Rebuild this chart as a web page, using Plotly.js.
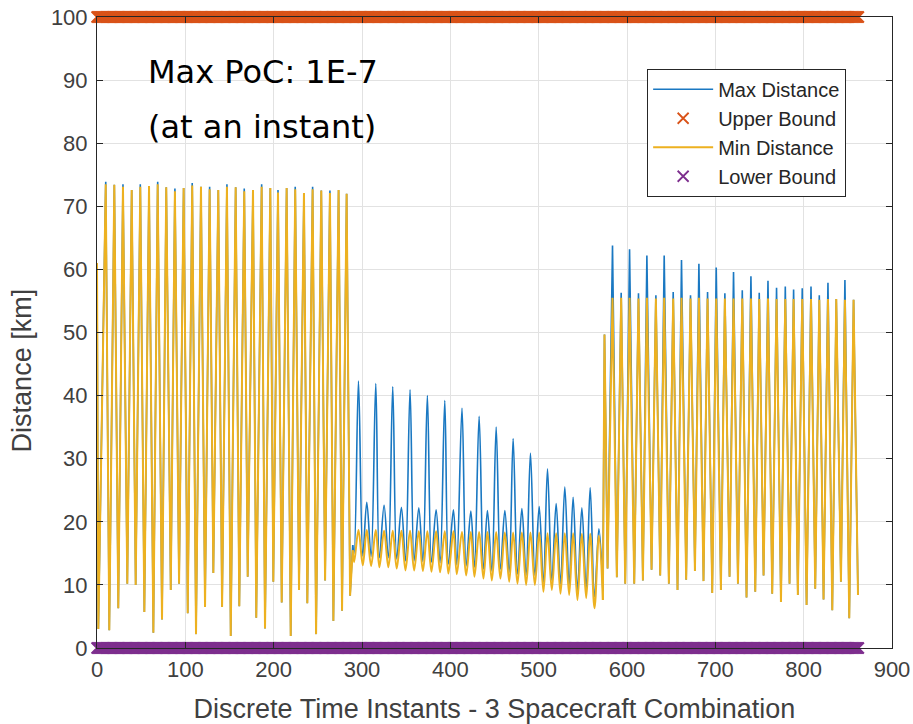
<!DOCTYPE html>
<html><head><meta charset="utf-8">
<script src="https://cdn.plot.ly/plotly-3.0.1.min.js"></script>
<style>html,body{margin:0;padding:0;background:#fff;} #chart{width:913px;height:724px;}</style>
</head><body><div id="chart"></div>
<script>
// ---- Segment 1 (instants 0 - 288) ----
const s1StartX = [0];
const s1StartY = [61.0];
const s1PeakX = [9.9, 19.6, 29.4, 39.3, 49.0, 58.9, 68.7, 78.4, 88.2, 98.1, 107.8, 117.7, 127.5, 137.3, 147.1, 157.0, 166.7, 176.6, 186.4, 196.2, 204.9, 214.7, 224.4, 234.3, 244.1, 253.9, 263.7, 273.5, 282.6];
const s1PeakMin = [73.5, 73.4, 73.1, 72.6, 73.1, 73.2, 73.5, 73.0, 72.4, 72.9, 73.3, 73.1, 72.7, 72.6, 73.1, 73.0, 72.4, 72.6, 73.1, 72.9, 72.2, 72.9, 72.7, 72.1, 72.7, 72.5, 72.1, 72.6, 72.0];
const s1PeakMax = [73.9, 73.4, 73.5, 72.6, 73.5, 73.2, 73.9, 73.0, 72.8, 72.9, 73.7, 73.1, 73.1, 72.6, 73.5, 73.0, 72.8, 72.6, 73.5, 72.9, 72.6, 72.9, 73.1, 72.1, 73.1, 72.5, 72.5, 72.6, 72.0];
const s1TroughX = [1.5, 13.9, 24.1, 34.3, 43.8, 53.6, 63.8, 73.6, 83.5, 92.9, 102.7, 112.1, 122.3, 131.7, 141.6, 151.4, 161.1, 170.6, 180.3, 190.2, 199.6, 209.1, 219.3, 228.7, 238.1, 248.0, 258.2, 267.6, 277.4, 286.5];
const s1TroughY = [3.0, 2.8, 6.3, 10.2, 10.0, 5.7, 2.4, 4.5, 9.2, 10.2, 5.5, 2.2, 6.5, 11.9, 6.5, 1.9, 6.6, 11.3, 4.8, 3.1, 10.5, 7.2, 1.9, 9.2, 7.1, 2.2, 10.7, 4.3, 5.9, 8.3];

// ---- Segment 2 (instants 289 - 573) ----
const s2EntryX = [289.5];
const s2EntryMin = [15.5];
const s2EntryMax = [16.3];
const s2PeakX = [296.0, 305.4, 315.6, 325.0, 334.8, 344.6, 354.4, 364.3, 374.0, 383.9, 393.7, 403.5, 413.2, 423.2, 432.6, 442.0, 451.9, 461.7, 471.1, 481.0, 490.7, 500.6, 510.0, 519.8, 529.6, 539.0, 548.9, 558.3, 568.2];
const s2PeakMax = [42.3, 23.1, 41.9, 22.6, 41.4, 22.3, 40.9, 22.2, 40.0, 21.9, 39.2, 21.9, 38.0, 21.7, 36.7, 21.8, 35.0, 21.8, 33.2, 22.1, 30.9, 22.4, 28.4, 22.9, 25.5, 23.9, 22.2, 25.4, 18.9];
const s2PeakMin = [18.7, 18.7, 18.7, 18.6, 18.6, 18.6, 18.6, 18.5, 18.5, 18.5, 18.5, 18.5, 18.4, 18.4, 18.4, 18.4, 18.4, 18.3, 18.3, 18.3, 18.3, 18.3, 18.2, 18.2, 18.2, 18.2, 18.1, 18.1, 17.8];
const s2TroughX = [291.1, 300.9, 310.3, 319.7, 329.8, 339.3, 349.2, 359.0, 368.9, 378.6, 388.4, 397.8, 407.3, 417.9, 427.3, 437.5, 447.0, 456.7, 466.6, 476.0, 485.8, 495.7, 505.4, 514.9, 524.7, 534.5, 543.9, 553.8, 563.2, 572.7];
const s2TroughMin = [13.6, 13.1, 13.0, 12.8, 12.8, 12.6, 12.3, 12.3, 12.2, 12.1, 12.0, 11.8, 11.7, 11.5, 11.3, 11.0, 10.7, 11.0, 10.5, 10.2, 10.0, 10.0, 8.9, 9.2, 8.6, 8.4, 7.6, 7.9, 6.3, 7.6];
const s2TroughMax = [15.0, 14.6, 14.5, 14.3, 14.3, 14.1, 13.8, 13.8, 13.7, 13.6, 13.5, 13.3, 13.2, 13.0, 12.8, 12.5, 12.2, 12.5, 12.0, 11.7, 11.5, 11.5, 10.4, 10.7, 10.1, 9.9, 9.1, 9.4, 8.1, 9.0];

// ---- Segment 3 (instants 574 - 862) ----
const s3EntryX = [574.5];
const s3EntryY = [49.7];
const s3PeakX = [583.6, 593.4, 602.9, 613.0, 622.5, 632.7, 642.1, 652.3, 661.7, 671.9, 681.4, 691.2, 701.0, 710.8, 720.6, 730.5, 740.3, 749.7, 759.6, 769.3, 779.2, 788.6, 798.4, 808.3, 817.7, 827.5, 836.9, 846.7, 856.5];
const s3PeakMax = [63.8, 56.3, 63.2, 56.2, 62.2, 55.9, 62.2, 56.4, 61.5, 55.9, 60.9, 56.4, 60.3, 56.2, 59.6, 56.7, 58.9, 56.3, 58.2, 57.1, 57.3, 56.8, 57.0, 57.3, 55.9, 57.9, 55.3, 58.3, 55.2];
const s3PeakMin = [55.5, 55.5, 55.5, 55.4, 55.5, 55.4, 55.5, 55.4, 55.5, 55.4, 55.5, 55.4, 55.4, 55.4, 55.4, 55.4, 55.4, 55.3, 55.4, 55.3, 55.3, 55.3, 55.3, 55.3, 55.2, 55.3, 55.3, 55.2, 55.2];
const s3TroughX = [578.0, 588.5, 598.0, 608.2, 618.0, 627.8, 637.6, 647.4, 657.2, 667.0, 676.9, 686.6, 696.5, 706.3, 716.1, 725.6, 735.3, 745.2, 754.6, 764.4, 774.3, 784.0, 793.4, 803.3, 813.1, 822.5, 832.4, 842.2, 851.6, 861.5];
const s3TroughY = [12.6, 11.2, 10.2, 10.2, 10.7, 12.4, 11.5, 10.2, 9.2, 10.8, 12.2, 10.6, 8.7, 9.2, 11.3, 10.2, 8.0, 8.9, 11.5, 8.6, 7.3, 10.2, 8.4, 6.8, 9.4, 7.7, 6.0, 10.5, 4.7, 8.4];

// ---- Bounds ----
const lastInstant = 862;
const upperBoundValue = 100;
const lowerBoundValue = 0;

// ---- Text ----
const xTickVals = [0, 100, 200, 300, 400, 500, 600, 700, 800, 900];
const yTickVals = [0, 10, 20, 30, 40, 50, 60, 70, 80, 90, 100];
const seriesNames = ['Max Distance', 'Upper Bound', 'Min Distance', 'Lower Bound'];
const xTitle = 'Discrete Time Instants - 3 Spacecraft Combination';
const yTitle = 'Distance [km]';
const noteLines = ['Max PoC: 1E-7', '(at an instant)'];

function mergePoints(pairs) {
  const pts = [];
  pairs.forEach(([xs, ys]) => xs.forEach((x, i) => pts.push([x, ys[i]])));
  pts.sort((a, b) => a[0] - b[0]);
  return {x: pts.map(p => p[0]), y: pts.map(p => p[1])};
}

// three pieces per series: piece 2 (middle block) drawn smoothed
const maxP1 = mergePoints([[s1StartX, s1StartY], [s1PeakX, s1PeakMax], [s1TroughX, s1TroughY], [s2EntryX, s2EntryMax]]);
const maxP2 = mergePoints([[s2EntryX, s2EntryMax], [s2PeakX, s2PeakMax], [s2TroughX, s2TroughMax]]);
const maxP3 = mergePoints([[s2TroughX.slice(-1), s2TroughMax.slice(-1)], [s3EntryX, s3EntryY], [s3PeakX, s3PeakMax], [s3TroughX, s3TroughY]]);
const minP1 = mergePoints([[s1StartX, s1StartY], [s1PeakX, s1PeakMin], [s1TroughX, s1TroughY], [s2EntryX, s2EntryMin]]);
const minP2 = mergePoints([[s2EntryX, s2EntryMin], [s2PeakX, s2PeakMin], [s2TroughX, s2TroughMin]]);
const minP3 = mergePoints([[s2TroughX.slice(-1), s2TroughMin.slice(-1)], [s3EntryX, s3EntryY], [s3PeakX, s3PeakMin], [s3TroughX, s3TroughY]]);

const instants = [];
for (let i = 0; i <= lastInstant; i++) instants.push(i);
const upperY = instants.map(() => upperBoundValue);
const lowerY = instants.map(() => lowerBoundValue);

const blue = '#1a78c2', orange = '#D95319', yellow = '#EDB120', purple = '#7E2F8E';
function piece(p, name, color, width, shape, show, group) {
  return {x: p.x, y: p.y, name: name, legendgroup: group, showlegend: show, mode: 'lines', type: 'scatter',
          line: {color: color, width: width, shape: shape, smoothing: 1}};
}

const traces = [
  piece(maxP1, seriesNames[0], blue, 1.6, 'linear', true, 'max'),
  piece(maxP2, seriesNames[0], blue, 1.6, 'spline', false, 'max'),
  piece(maxP3, seriesNames[0], blue, 1.6, 'linear', false, 'max'),
  {x: instants, y: upperY, name: seriesNames[1], mode: 'markers', type: 'scatter', cliponaxis: false,
   marker: {symbol: 'x-thin', size: 11, color: orange, line: {color: orange, width: 1.8}}},
  piece(minP1, seriesNames[2], yellow, 2.0, 'linear', true, 'min'),
  piece(minP2, seriesNames[2], yellow, 2.0, 'spline', false, 'min'),
  piece(minP3, seriesNames[2], yellow, 2.0, 'linear', false, 'min'),
  {x: instants, y: lowerY, name: seriesNames[3], mode: 'markers', type: 'scatter', cliponaxis: false,
   marker: {symbol: 'x-thin', size: 11, color: purple, line: {color: purple, width: 1.8}}}
];

const tickFont = {family: 'Liberation Sans, Arial, sans-serif', size: 22, color: '#404040'};
const layout = {
  width: 913, height: 724,
  margin: {l: 97, r: 21, t: 17, b: 76, pad: 0},
  paper_bgcolor: '#ffffff', plot_bgcolor: '#ffffff',
  showlegend: true,
  font: {family: 'Liberation Sans, Arial, sans-serif', color: '#262626'},
  xaxis: {range: [0, 900], tickvals: xTickVals, showgrid: true, gridcolor: '#e2e2e2', gridwidth: 1,
    showline: true, linecolor: '#262626', linewidth: 1, mirror: 'ticks', ticks: 'inside', ticklen: 6,
    tickcolor: '#262626', zeroline: false, tickfont: tickFont, automargin: false, ticklabelstandoff: 2,
    title: {text: xTitle, font: {size: 27, color: '#404040'}, standoff: 22}},
  yaxis: {range: [0, 100], tickvals: yTickVals, showgrid: true, gridcolor: '#e2e2e2', gridwidth: 1,
    showline: true, linecolor: '#262626', linewidth: 1, mirror: 'ticks', ticks: 'inside', ticklen: 6,
    tickcolor: '#262626', zeroline: false, tickfont: tickFont, automargin: false, ticklabelstandoff: 4},
  legend: {x: 0.692, y: 0.918, xanchor: 'left', yanchor: 'top', bgcolor: '#ffffff', itemwidth: 60,
    bordercolor: '#262626', borderwidth: 1, font: {size: 20, color: '#262626'}, tracegroupgap: 0},
  annotations: [
    {text: yTitle, xref: 'paper', yref: 'paper', x: -0.0943, y: 0.44, xanchor: 'center', yanchor: 'middle',
     textangle: -90, showarrow: false, font: {family: 'Liberation Sans, Arial, sans-serif', size: 27, color: '#404040'}},
    {text: noteLines[0], xref: 'paper', yref: 'paper', x: 0.062, y: 0.913, xanchor: 'left', yanchor: 'middle',
     showarrow: false, font: {family: 'DejaVu Sans, sans-serif', size: 32, color: '#000000'}},
    {text: noteLines[1], xref: 'paper', yref: 'paper', x: 0.062, y: 0.826, xanchor: 'left', yanchor: 'middle',
     showarrow: false, font: {family: 'DejaVu Sans, sans-serif', size: 32, color: '#000000'}}
  ]
};

Plotly.newPlot('chart', traces, layout, {displayModeBar: false, staticPlot: true});
</script></body></html>
